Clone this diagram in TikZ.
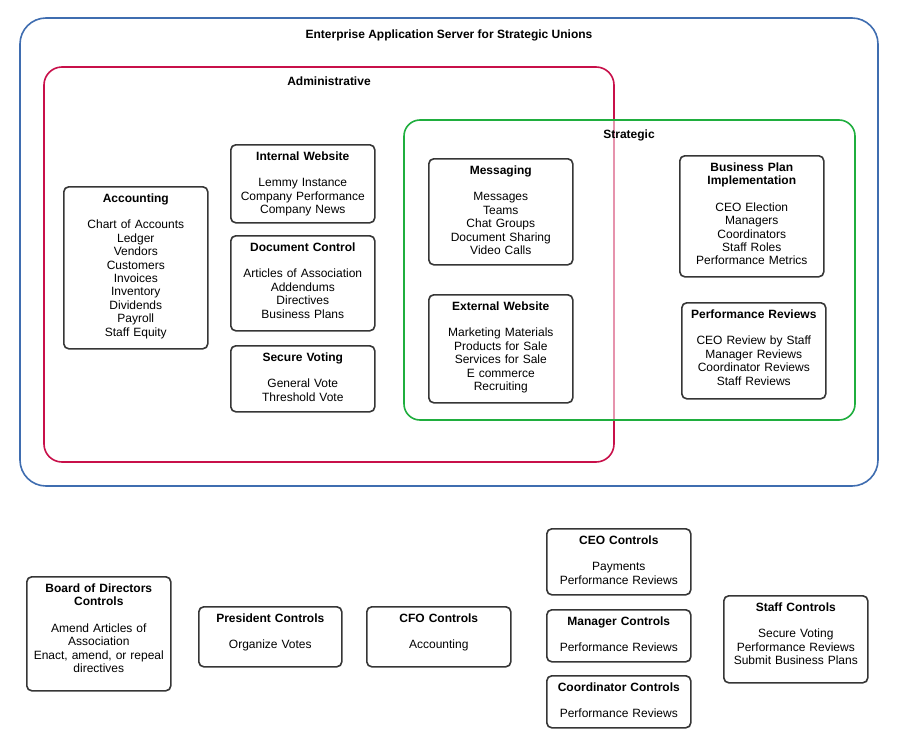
\documentclass[tikz,border=0pt]{standalone}
\usepackage{fontspec}
\setmainfont{Liberation Sans}

\definecolor{serverblue}{HTML}{3F6DB0}
\definecolor{adminred}{HTML}{C8104A}
\definecolor{stratgreen}{HTML}{1FAE3E}
\definecolor{boxgray}{HTML}{363636}

\begin{document}
\begin{tikzpicture}[x=1pt, y=-1pt,
    unit/.style={draw=boxgray, line width=1.6pt, rounded corners=5pt, fill=white,
        inner sep=0pt, anchor=north west},
    unittext/.style={align=center, inner sep=0pt, text width=140pt, anchor=north,
        font=\fontsize{12}{13.4}\selectfont},
    group/.style={line width=1.6pt},
    grouptitle/.style={anchor=base, inner sep=0pt, font=\fontsize{12}{13.4}\selectfont\bfseries}]

    % Page size
    \useasboundingbox (0,0) rectangle (910,739);

    % Containers
    \draw[group, draw=serverblue, rounded corners=26pt] (20,18) rectangle (878,486);
    \draw[group, draw=adminred, rounded corners=18pt] (44,67) rectangle (614,462);
    \draw[group, draw=stratgreen, fill=white, fill opacity=.55, rounded corners=16pt] (404,120) rectangle (855,420);

    \node[grouptitle] (server) at (449,38.5) {Enterprise Application Server for Strategic Unions};
    \node[grouptitle] (admin) at (329,85.5) {Administrative};
    \node[grouptitle] (strat) at (629,138.5) {Strategic};

    % Administrative units
    \node[unit, minimum width=144pt, minimum height=162pt] (acc) at (63,186) {};
    \node[unittext] (acc-t) at ([yshift=-7.2pt]acc.north) {\textbf{Accounting}\\[13.4pt]
        Chart of Accounts\\Ledger\\Vendors\\Customers\\Invoices\\Inventory\\Dividends\\Payroll\\Staff Equity};

    \node[unit, minimum width=144pt, minimum height=78pt] (intweb) at (230,144) {};
    \node[unittext] (intweb-t) at ([yshift=-7.2pt]intweb.north) {\textbf{Internal Website}\\[13.4pt]
        Lemmy Instance\\Company Performance\\Company News};

    \node[unit, minimum width=144pt, minimum height=95pt] (doc) at (230,235) {};
    \node[unittext] (doc-t) at ([yshift=-7.2pt]doc.north) {\textbf{Document Control}\\[13.4pt]
        Articles of Association\\Addendums\\Directives\\Business Plans};

    \node[unit, minimum width=144pt, minimum height=66pt] (vote) at (230,345) {};
    \node[unittext] (vote-t) at ([yshift=-7.2pt]vote.north) {\textbf{Secure Voting}\\[13.4pt]
        General Vote\\Threshold Vote};

    % Strategic units
    \node[unit, minimum width=144pt, minimum height=106pt] (msg) at (428,158) {};
    \node[unittext] (msg-t) at ([yshift=-7.2pt]msg.north) {\textbf{Messaging}\\[13.4pt]
        Messages\\Teams\\Chat Groups\\Document Sharing\\Video Calls};

    \node[unit, minimum width=144pt, minimum height=108pt] (extweb) at (428,294) {};
    \node[unittext] (extweb-t) at ([yshift=-7.2pt]extweb.north) {\textbf{External Website}\\[13.4pt]
        Marketing Materials\\Products for Sale\\Services for Sale\\E commerce\\Recruiting};

    \node[unit, minimum width=144pt, minimum height=121pt] (plan) at (679,155) {};
    \node[unittext] (plan-t) at ([yshift=-7.2pt]plan.north) {\textbf{Business Plan}\\\textbf{Implementation}\\[13.4pt]
        CEO Election\\Managers\\Coordinators\\Staff Roles\\Performance Metrics};

    \node[unit, minimum width=144pt, minimum height=96pt] (review) at (681,302) {};
    \node[unittext] (review-t) at ([yshift=-7.2pt]review.north) {\textbf{Performance Reviews}\\[13.4pt]
        CEO Review by Staff\\Manager Reviews\\Coordinator Reviews\\Staff Reviews};

    % Role controls
    \node[unit, minimum width=144pt, minimum height=114pt] (board) at (26,576) {};
    \node[unittext] (board-t) at ([yshift=-7.2pt]board.north) {\textbf{Board of Directors}\\\textbf{Controls}\\[13.4pt]
        Amend Articles of\\Association\\Enact, amend, or repeal\\directives};

    \node[unit, minimum width=143pt, minimum height=60pt] (pres) at (198,606) {};
    \node[unittext] (pres-t) at ([yshift=-7.2pt]pres.north) {\textbf{President Controls}\\[13.4pt]
        Organize Votes};

    \node[unit, minimum width=144pt, minimum height=60pt] (cfo) at (366,606) {};
    \node[unittext] (cfo-t) at ([yshift=-7.2pt]cfo.north) {\textbf{CFO Controls}\\[13.4pt]
        Accounting};

    \node[unit, minimum width=144pt, minimum height=66pt] (ceo) at (546,528) {};
    \node[unittext] (ceo-t) at ([yshift=-7.2pt]ceo.north) {\textbf{CEO Controls}\\[13.4pt]
        Payments\\Performance Reviews};

    \node[unit, minimum width=144pt, minimum height=52pt] (mgr) at (546,609) {};
    \node[unittext] (mgr-t) at ([yshift=-7.2pt]mgr.north) {\textbf{Manager Controls}\\[13.4pt]
        Performance Reviews};

    \node[unit, minimum width=144pt, minimum height=52pt] (coord) at (546,675) {};
    \node[unittext] (coord-t) at ([yshift=-7.2pt]coord.north) {\textbf{Coordinator Controls}\\[13.4pt]
        Performance Reviews};

    \node[unit, minimum width=144pt, minimum height=87pt] (staff) at (723,595) {};
    \node[unittext] (staff-t) at ([yshift=-7.2pt]staff.north) {\textbf{Staff Controls}\\[13.4pt]
        Secure Voting\\Performance Reviews\\Submit Business Plans};

\end{tikzpicture}
\end{document}
